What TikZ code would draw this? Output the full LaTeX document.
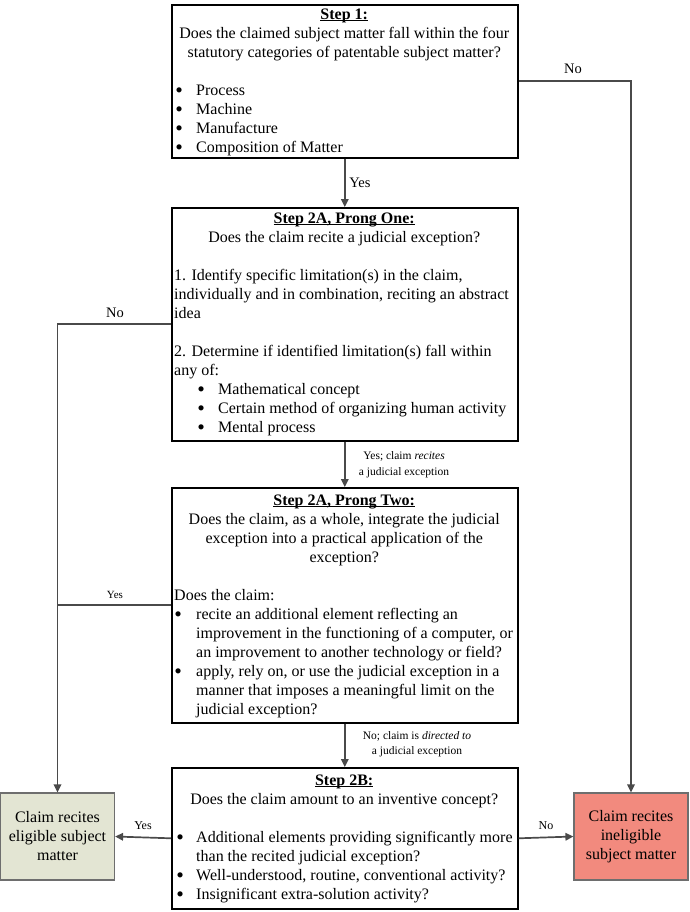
\documentclass[tikz,border=0pt]{standalone}
\usepackage{fontspec}
\setmainfont{Liberation Serif}
\usetikzlibrary{arrows.meta}
\definecolor{eligfill}{HTML}{E3E5D3}
\definecolor{ineligfill}{HTML}{F28A7E}
\definecolor{conn}{HTML}{4A4A4A}
\newcommand\stepul[1]{\setbox0\hbox{\textbf{#1}}\rlap{\rule[-1.8pt]{\wd0}{1.1pt}}\box0}
\newcommand\cln[1]{\hbox to \hsize{\hss#1\hss}}
\newcommand\lln[2]{\hbox{\hspace*{#1}#2}}
\newcommand\bigbul{\smash{\raisebox{-2.2pt}{\scalebox{1.35}{\textbullet}}}}
\newcommand\bln[3]{\hbox{\hspace*{#1}\makebox[0pt][c]{\bigbul}\hspace*{#2}#3}}
\newcommand\emptyln{\hbox{}}
\newcommand\boxtext[1]{\parbox[t]{346pt}{\fontsize{16}{19}\selectfont\lineskiplimit=-100pt\lineskip=0pt #1}}
\newcommand\lbltext[2]{\parbox[t]{160pt}{\centering\fontsize{#1}{15.5}\selectfont #2}}
\tikzset{
  stepbox/.style={draw=black, line width=1.6pt, fill=white, minimum width=346pt, inner sep=0pt, anchor=north west},
  boxtxt/.style={inner sep=0pt, anchor=base west},
  endbox/.style={draw=conn!80, line width=1.2pt, minimum width=114pt, minimum height=87pt, inner sep=0pt, align=center, font=\fontsize{16}{19}\selectfont},
  arr/.style={draw=conn, line width=1.7pt, -{Triangle[length=8pt,width=7.5pt]}},
  conline/.style={draw=conn, line width=1.7pt},
  lbl/.style={inner sep=0pt, anchor=base}
}
\begin{document}
\begin{tikzpicture}[x=1pt,y=-1pt]
\useasboundingbox (0,0) rectangle (690,912);

% boxes
\node[stepbox, minimum height=153pt] (b1) at (171,4) {};
\node[stepbox, minimum height=233pt] (b2) at (171,207) {};
\node[stepbox, minimum height=235pt] (b3) at (171,487) {};
\node[stepbox, minimum height=141pt] (b4) at (171,767) {};
\node[endbox, fill=eligfill] (elig) at (57.5,836.5) {Claim recites\\eligible subject\\matter};
\node[endbox, fill=ineligfill] (inelig) at (631,836.5) {Claim recites\\ineligible\\subject matter};

% box texts
\node[boxtxt] (t1) at (171,19.5) {\boxtext{%
\cln{\stepul{Step 1:}}
\cln{Does the claimed subject matter fall within the four}
\cln{statutory categories of patentable subject matter?}
\emptyln
\bln{8pt}{17pt}{Process}
\bln{8pt}{17pt}{Machine}
\bln{8pt}{17pt}{Manufacture}
\bln{8pt}{17pt}{Composition of Matter}}};

\node[boxtxt] (t2) at (171,223) {\boxtext{%
\cln{\stepul{Step 2A, Prong One:}}
\cln{Does the claim recite a judicial exception?}
\emptyln
\lln{3pt}{1. Identify specific limitation(s) in the claim,}
\lln{3pt}{individually and in combination, reciting an abstract}
\lln{3pt}{idea}
\emptyln
\lln{3pt}{2. Determine if identified limitation(s) fall within}
\lln{3pt}{any of:}
\bln{30pt}{17pt}{Mathematical concept}
\bln{30pt}{17pt}{Certain method of organizing human activity}
\bln{30pt}{17pt}{Mental process}}};

\node[boxtxt] (t3) at (171,505.5) {\boxtext{%
\cln{\stepul{Step 2A, Prong Two:}}
\cln{Does the claim, as a whole, integrate the judicial}
\cln{exception into a practical application of the}
\cln{exception?}
\emptyln
\lln{3pt}{Does the claim:}
\bln{7pt}{18pt}{recite an additional element reflecting an}
\lln{25pt}{improvement in the functioning of a computer, or}
\lln{25pt}{an improvement to another technology or field?}
\bln{7pt}{18pt}{apply, rely on, or use the judicial exception in a}
\lln{25pt}{manner that imposes a meaningful limit on the}
\lln{25pt}{judicial exception?}}};

\node[boxtxt] (t4) at (171,785) {\boxtext{%
\cln{\stepul{Step 2B:}}
\cln{Does the claim amount to an inventive concept?}
\emptyln
\bln{9pt}{16pt}{Additional elements providing significantly more}
\lln{25pt}{than the recited judicial exception?}
\bln{9pt}{16pt}{Well-understood, routine, conventional activity?}
\bln{9pt}{16pt}{Insignificant extra-solution activity?}}};

% connectors
\draw[arr] (b1.south) -- (b2.north);
\draw[arr] (b2.south) -- (b3.north);
\draw[arr] (b3.south) -- (b4.north);
\draw[arr] (b1.east) -| (inelig.north);
\draw[arr] (b2.west) -| (elig.north);
\coordinate (joinyes) at (b3.west -| elig.north);
\draw[conline] (b3.west) -- (joinyes);
\draw[arr] (b4.west) -- (elig.east);
\draw[arr] (b4.east) -- (inelig.west);

% labels
\node[lbl, font=\fontsize{14.5}{17}\selectfont] (lyes1) at (360,187) {Yes};
\node[lbl, font=\fontsize{14.5}{17}\selectfont] (lno1) at (573,74) {No};
\node[lbl, font=\fontsize{14.5}{17}\selectfont] (lno2) at (115,317) {No};
\node[lbl, font=\fontsize{11}{14}\selectfont] (lyes2) at (115,598.5) {Yes};
\node[lbl, font=\fontsize{12}{14}\selectfont] (lyes3) at (143,829) {Yes};
\node[lbl, font=\fontsize{12}{14}\selectfont] (lno3) at (546,829) {No};
\node[lbl] (lrec) at (404,459.5) {\lbltext{11.5}{Yes; claim \textit{recites}\\a judicial exception}};
\node[lbl] (ldir) at (417,739) {\lbltext{11.5}{No; claim is \textit{directed to}\\a judicial exception}};
\end{tikzpicture}
\end{document}
